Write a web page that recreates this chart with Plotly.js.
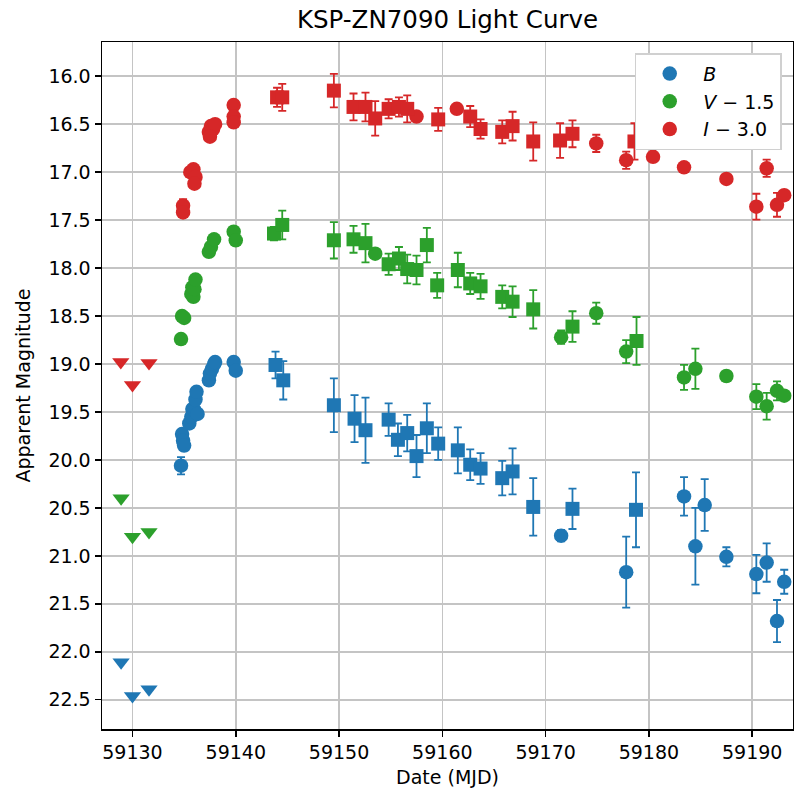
<!DOCTYPE html>
<html>
<head>
<meta charset="utf-8">
<script src="https://cdn.plot.ly/plotly-3.0.1.min.js"></script>
<style>html,body{margin:0;padding:0;background:#fff;}#chart{width:794px;height:795px;}</style>
</head>
<body>
<div id="chart"></div>
<script>
// ---- B band ----
const bCircX = [59134.7, 59134.8, 59134.9, 59135.0, 59135.5, 59135.7, 59135.8, 59136.0, 59136.1, 59136.2, 59136.3, 59137.4, 59137.5, 59137.7, 59137.9, 59138.0, 59139.8, 59140.0, 59171.5, 59177.8, 59183.4, 59184.5, 59185.4, 59187.5, 59190.4, 59191.4, 59192.4, 59193.1];
const bCircY = [20.06, 19.73, 19.80, 19.85, 19.62, 19.55, 19.47, 19.48, 19.37, 19.29, 19.52, 19.17, 19.10, 19.05, 19.00, 18.98, 18.98, 19.07, 20.79, 21.17, 20.38, 20.90, 20.47, 21.01, 21.19, 21.07, 21.68, 21.27];
const bCircE = [0.09, 0.05, 0.05, 0.05, 0.04, 0.04, 0.04, 0.04, 0.04, 0.04, 0.04, 0.04, 0.04, 0.04, 0.04, 0.04, 0.03, 0.03, 0.06, 0.37, 0.20, 0.40, 0.27, 0.10, 0.20, 0.20, 0.22, 0.125];
const bSqX = [59143.85, 59144.6, 59149.5, 59151.5, 59152.56, 59154.8, 59155.7, 59156.6, 59157.5, 59158.5, 59159.6, 59161.5, 59162.7, 59163.7, 59165.8, 59166.8, 59168.8, 59172.6, 59178.75];
const bSqY = [19.01, 19.17, 19.43, 19.57, 19.69, 19.58, 19.79, 19.72, 19.96, 19.67, 19.83, 19.90, 20.05, 20.09, 20.19, 20.12, 20.49, 20.51, 20.52];
const bSqE = [0.14, 0.20, 0.28, 0.245, 0.34, 0.17, 0.17, 0.19, 0.22, 0.26, 0.17, 0.24, 0.16, 0.16, 0.18, 0.24, 0.30, 0.21, 0.39];
const bLimX = [59128.9, 59130.0, 59131.6];
const bLimY = [22.11, 22.46, 22.39];

// ---- V band (plotted as V - 1.5) ----
const vCircX = [59134.7, 59134.8, 59135.0, 59135.7, 59135.8, 59135.9, 59136.0, 59136.1, 59137.4, 59137.6, 59137.9, 59139.8, 59140.0, 59153.5, 59171.5, 59174.9, 59177.8, 59183.4, 59184.5, 59187.5, 59190.4, 59191.4, 59192.4, 59193.1];
const vCircY = [18.74, 18.50, 18.52, 18.27, 18.20, 18.30, 18.22, 18.12, 17.83, 17.78, 17.70, 17.62, 17.71, 17.85, 18.72, 18.47, 18.87, 19.14, 19.05, 19.125, 19.34, 19.44, 19.28, 19.33];
const vCircE = [0.04, 0.04, 0.04, 0.04, 0.04, 0.04, 0.04, 0.04, 0.03, 0.03, 0.03, 0.03, 0.03, 0.04, 0.07, 0.11, 0.12, 0.13, 0.21, 0.03, 0.13, 0.14, 0.10, 0.04];
const vSqX = [59143.7, 59144.5, 59149.5, 59151.4, 59152.56, 59154.8, 59155.8, 59156.6, 59157.5, 59158.5, 59159.5, 59161.5, 59162.7, 59163.7, 59165.8, 59166.8, 59168.8, 59172.6, 59178.8];
const vSqY = [17.64, 17.55, 17.71, 17.70, 17.74, 17.96, 17.90, 18.01, 18.02, 17.76, 18.18, 18.02, 18.16, 18.19, 18.30, 18.35, 18.43, 18.61, 18.76];
const vSqE = [0.07, 0.15, 0.19, 0.14, 0.20, 0.11, 0.12, 0.15, 0.15, 0.18, 0.13, 0.18, 0.11, 0.13, 0.12, 0.16, 0.20, 0.16, 0.25];
const vLimX = [59128.9, 59130.0, 59131.6];
const vLimY = [20.40, 20.80, 20.75];

// ---- I band (plotted as I - 3.0) ----
const iCircX = [59134.9, 59134.9, 59135.6, 59135.9, 59136.1, 59136.0, 59137.4, 59137.6, 59137.8, 59138.0, 59137.5, 59139.8, 59139.8, 59139.8, 59157.5, 59161.4, 59174.9, 59177.8, 59180.4, 59183.4, 59187.5, 59190.4, 59191.4, 59192.4, 59193.1];
const iCircY = [17.35, 17.42, 17.00, 16.97, 17.05, 17.12, 16.58, 16.52, 16.55, 16.50, 16.63, 16.30, 16.42, 16.48, 16.42, 16.34, 16.70, 16.875, 16.84, 16.95, 17.07, 17.36, 16.96, 17.34, 17.24];
const iCircE = [0.07, 0.04, 0.04, 0.04, 0.04, 0.04, 0.03, 0.03, 0.03, 0.03, 0.03, 0.03, 0.03, 0.03, 0.03, 0.03, 0.09, 0.09, 0.03, 0.03, 0.03, 0.135, 0.09, 0.125, 0.04];
const iSqX = [59144.0, 59144.5, 59149.5, 59151.4, 59152.56, 59153.5, 59154.8, 59155.8, 59156.6, 59159.6, 59162.7, 59163.7, 59165.8, 59166.8, 59168.8, 59171.4, 59172.6, 59178.6];
const iSqY = [16.22, 16.22, 16.15, 16.32, 16.32, 16.44, 16.34, 16.32, 16.34, 16.45, 16.42, 16.55, 16.58, 16.52, 16.68, 16.67, 16.60, 16.68];
const iSqE = [0.10, 0.14, 0.175, 0.14, 0.15, 0.18, 0.10, 0.10, 0.14, 0.12, 0.11, 0.10, 0.12, 0.15, 0.20, 0.18, 0.14, 0.19];
const iLimX = [59128.87, 59130.0, 59131.6];
const iLimY = [18.98, 19.22, 18.99];

const legendNames = ['<i>B</i>', '<i>V</i> − 1.5', '<i>I</i> − 3.0'];
const colors = ['#1f77b4', '#2ca02c', '#d62728'];

const bands = [
  {cx: bCircX, cy: bCircY, ce: bCircE, sx: bSqX, sy: bSqY, se: bSqE, lx: bLimX, ly: bLimY},
  {cx: vCircX, cy: vCircY, ce: vCircE, sx: vSqX, sy: vSqY, se: vSqE, lx: vLimX, ly: vLimY},
  {cx: iCircX, cy: iCircY, ce: iCircE, sx: iSqX, sy: iSqY, se: iSqE, lx: iLimX, ly: iLimY}
];

const traces = [];
bands.forEach((b, k) => {
  const col = colors[k];
  const eb = (arr) => ({type: 'data', array: arr, visible: true, color: col, thickness: 1.8, width: 4});
  traces.push({
    type: 'scatter', mode: 'markers', x: b.cx, y: b.cy, name: legendNames[k],
    error_y: eb(b.ce), marker: {symbol: 'circle', size: 14.5, color: col, line: {width: 0}}, showlegend: true
  });
  traces.push({
    type: 'scatter', mode: 'markers', x: b.sx, y: b.sy, name: legendNames[k],
    error_y: eb(b.se), marker: {symbol: 'square', size: 14, color: col, line: {width: 0}}, showlegend: false
  });
  traces.push({
    type: 'scatter', mode: 'markers', x: b.lx, y: b.ly, name: legendNames[k],
    marker: {symbol: 'triangle-down', size: 15, color: col, line: {width: 0}}, showlegend: false
  });
});

const fam = 'DejaVu Sans, sans-serif';

const layout = {
  width: 794, height: 795,
  margin: {l: 102, r: 1, t: 42, b: 66},
  paper_bgcolor: '#fff', plot_bgcolor: '#fff',
  font: {family: fam, color: '#000', size: 19},
  showlegend: true,
  title: {text: 'KSP-ZN7090 Light Curve', font: {family: fam, size: 24.5, color: '#000'},
          x: 0.5, xref: 'paper', y: 0.975, yref: 'container', yanchor: 'middle'},
  xaxis: {
    range: [59127.05, 59193.95], tick0: 59130, dtick: 10, tickformat: 'd',
    showgrid: true, gridcolor: '#c4c4c4', gridwidth: 1.6, zeroline: false,
    showline: true, linecolor: '#000', linewidth: 1.5, mirror: true,
    ticks: 'outside', ticklen: 6, tickwidth: 1.5, tickcolor: '#000',
    tickfont: {family: fam, size: 19, color: '#000'},
    title: {text: 'Date (MJD)', font: {family: fam, size: 19, color: '#000'}, standoff: 8},
    automargin: false
  },
  yaxis: {
    range: [22.805, 15.643], tick0: 16, dtick: 0.5, tickformat: '.1f',
    showgrid: true, gridcolor: '#c4c4c4', gridwidth: 1.6, zeroline: false,
    showline: true, linecolor: '#000', linewidth: 1.5, mirror: true,
    ticks: 'outside', ticklen: 6, tickwidth: 1.5, tickcolor: '#000',
    tickfont: {family: fam, size: 19, color: '#000'},
    title: {text: 'Apparent Magnitude', font: {family: fam, size: 19, color: '#000'}, standoff: 12},
    automargin: false
  },
  legend: {
    x: 0.9837, xanchor: 'right', y: 0.9836, yanchor: 'top',
    bgcolor: '#ffffff', bordercolor: '#d0d0d0', borderwidth: 1.5,
    font: {family: fam, size: 19, color: '#000'},
    tracegroupgap: 0, itemwidth: 57
  }
};

Plotly.newPlot('chart', traces, layout, {displayModeBar: false, staticPlot: true});
</script>
</body>
</html>
